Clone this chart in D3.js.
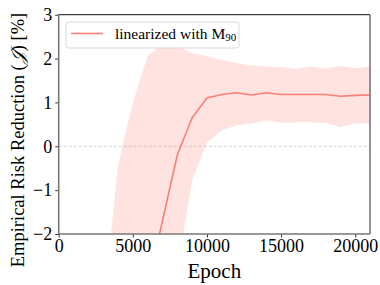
<!DOCTYPE html>
<html>
<head>
<meta charset="utf-8">
<script src="https://cdn.jsdelivr.net/npm/d3@7"></script>
<style>
  body { margin: 0; background: #fff; }
  svg text { font-family: "Liberation Serif", "DejaVu Serif", serif; }
  svg .tick text { font-family: "Liberation Serif", serif; font-size: 18px; fill: #000; }
</style>
</head>
<body>
<div id="chart"></div>
<script>
// values
var epochs = [3000, 4000, 5000, 6000, 7000, 8000, 9000, 10000, 11000, 12000, 13000, 14000, 15000, 16000, 17000, 18000, 19000, 20000, 21000];
var meanRR = [-6.5, -5.6, -4.6, -3.2, -1.7, -0.2, 0.65, 1.1, 1.18, 1.22, 1.17, 1.22, 1.18, 1.18, 1.18, 1.18, 1.14, 1.16, 1.17];
var upperRR = [-3.75, -0.45, 1.0, 2.05, 2.35, 2.3, 2.12, 2.05, 1.97, 1.9, 1.84, 1.82, 1.8, 1.77, 1.82, 1.77, 1.83, 1.78, 1.82];
var lowerRR = [-9.5, -9.0, -8.2, -6.5, -4.8, -2.8, -0.77, 0.08, 0.36, 0.48, 0.52, 0.59, 0.53, 0.55, 0.55, 0.53, 0.44, 0.52, 0.52];
var xTicks = [0, 5000, 10000, 15000, 20000];
var yTicks = [-2, -1, 0, 1, 2, 3];

var width = 380
  , height = 285
  , margin = {top: 14.7, right: 10, bottom: 51, left: 58.7}
  , lineColor = "#fa7f72";

var svg = d3.select("#chart").append("svg")
    .attr("width", width)
    .attr("height", height);

var x = d3.scaleLinear().domain([0, 21000]).range([margin.left, width - margin.right]);
var y = d3.scaleLinear().domain([-2, 3]).range([height - margin.bottom, margin.top]);

var data = epochs.map(function(e, i){
  return {e: e, m: meanRR[i], lo: lowerRR[i], hi: upperRR[i]};
});

svg.append("clipPath").attr("id", "plot-clip")
  .append("rect")
    .attr("x", x.range()[0]).attr("y", y.range()[1])
    .attr("width", x.range()[1] - x.range()[0])
    .attr("height", y.range()[0] - y.range()[1]);

var plot = svg.append("g").attr("clip-path", "url(#plot-clip)");

// zero reference line
plot.append("line")
    .attr("x1", x.range()[0]).attr("x2", x.range()[1])
    .attr("y1", y(0)).attr("y2", y(0))
    .attr("stroke", "#c8c8c8")
    .attr("stroke-width", 0.8)
    .attr("stroke-dasharray", "3,2");

// std band
plot.append("path")
    .datum(data)
    .attr("fill", lineColor)
    .attr("fill-opacity", 0.22)
    .attr("d", d3.area().x(d => x(d.e)).y0(d => y(d.lo)).y1(d => y(d.hi)));

// mean line
plot.append("path")
    .datum(data)
    .attr("fill", "none")
    .attr("stroke", lineColor)
    .attr("stroke-width", 1.6)
    .attr("d", d3.line().x(d => x(d.e)).y(d => y(d.m)));

// axes
var xAxis = svg.append("g")
    .attr("transform", "translate(0," + y.range()[0] + ")")
    .call(d3.axisBottom(x).tickValues(xTicks).tickSize(3.5).tickPadding(2).tickFormat(d3.format("d")));
var yAxis = svg.append("g")
    .attr("transform", "translate(" + x.range()[0] + ",0)")
    .call(d3.axisLeft(y).tickValues(yTicks).tickSize(3.5).tickPadding(3).tickFormat(d => d < 0 ? "\u2212" + Math.abs(d) : d));

[xAxis, yAxis].forEach(function(a){
  a.attr("font-family", null).attr("font-size", null);
  a.select(".domain").remove();
  a.selectAll(".tick line").attr("stroke", "#000").attr("stroke-width", 0.8);
});

// spines
var x0 = x.range()[0], x1 = x.range()[1], y0 = y.range()[0], y1 = y.range()[1];
svg.append("line").attr("x1", x0).attr("x2", x1).attr("y1", y1).attr("y2", y1)
    .attr("stroke", "#111").attr("stroke-width", 1);
svg.append("line").attr("x1", x1).attr("x2", x1).attr("y1", y1).attr("y2", y0)
    .attr("stroke", "#777").attr("stroke-width", 1.6);
svg.append("line").attr("x1", x0).attr("x2", x0).attr("y1", y1).attr("y2", y0)
    .attr("stroke", "#777").attr("stroke-width", 1.6);
svg.append("line").attr("x1", x0).attr("x2", x1).attr("y1", y0).attr("y2", y0)
    .attr("stroke", "#777").attr("stroke-width", 1.6);

// axis titles
svg.append("text")
    .attr("x", (x0 + x1) / 2)
    .attr("y", 278)
    .attr("text-anchor", "middle")
    .style("font-size", "21px")
    .text("Epoch");

var ylab = svg.append("text")
    .attr("transform", "translate(24,140) rotate(-90)")
    .attr("text-anchor", "middle")
    .style("font-size", "18.5px");
ylab.append("tspan").text("Empirical Risk Reduction (");
ylab.append("tspan").style("font-style", "italic").style("font-family", "'DejaVu Serif', serif").text("\uD835\uDCA5");
ylab.append("tspan").text(") [%]");

// legend
var legend = svg.append("g");
legend.append("rect")
    .attr("x", 66).attr("y", 22)
    .attr("width", 173).attr("height", 26)
    .attr("rx", 3)
    .attr("fill", "#fff").attr("fill-opacity", 0.85)
    .attr("stroke", "#d9d9d9").attr("stroke-width", 1);
legend.append("line")
    .attr("x1", 71).attr("x2", 103).attr("y1", 33.5).attr("y2", 33.5)
    .attr("stroke", lineColor).attr("stroke-width", 1.6);
var lt = legend.append("text")
    .attr("x", 115).attr("y", 39)
    .style("font-size", "15.5px");
lt.append("tspan").text("linearized with M");
lt.append("tspan").attr("dy", 2).style("font-size", "11px").text("90");
</script>
</body>
</html>
